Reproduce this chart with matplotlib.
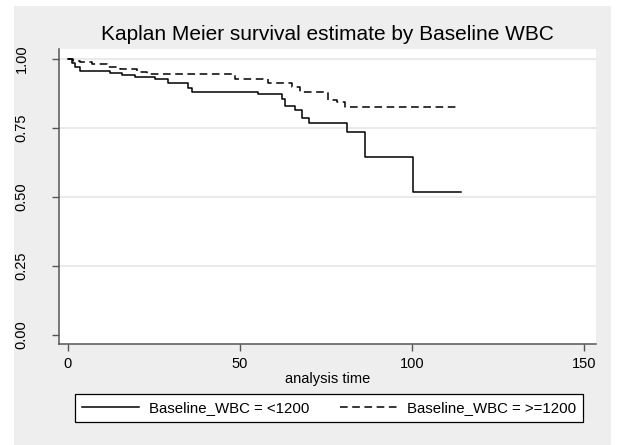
import matplotlib.pyplot as plt
from matplotlib.patches import Rectangle

plt.rcParams['font.family'] = ['Liberation Sans', 'DejaVu Sans']

# step times and survival, Baseline_WBC < 1200
t_low = [0, 1.2, 2.0, 3.5, 12.2, 15.7, 19.5, 25.3, 29.1, 34.9, 36.0, 55.2,
         62.2, 63.1, 66.0, 68.0, 70.1, 81.1, 86.3, 100.3, 114.2]
s_low = [1.0, 0.986, 0.971, 0.957, 0.949, 0.942, 0.935, 0.928, 0.913, 0.895, 0.880, 0.873,
         0.855, 0.830, 0.815, 0.786, 0.768, 0.736, 0.645, 0.518, 0.518]

# Baseline_WBC >= 1200
t_high = [0, 1.5, 3.5, 7.0, 11.3, 15.1, 20.1, 23.0, 48.5, 58.1, 65.1, 67.4,
          75.6, 78.2, 80.5, 113.1]
s_high = [1.0, 0.993, 0.989, 0.982, 0.971, 0.964, 0.953, 0.944, 0.928, 0.913, 0.899, 0.880,
          0.851, 0.844, 0.826, 0.826]

xticks = [0, 50, 100, 150]
yticks = [0, 0.25, 0.5, 0.75, 1.0]
ylabels = ['0.00', '0.25', '0.50', '0.75', '1.00']

W, H = 637, 445
fig = plt.figure(figsize=(W / 100, H / 100), dpi=100, facecolor='white')
fig.patches.append(Rectangle((14 / W, 0), (611 - 14) / W, 1 - 6 / H,
                             transform=fig.transFigure, facecolor='#eeeeee',
                             edgecolor='none', zorder=-10))

ax = fig.add_axes([59 / W, 1 - 344 / H, (596 - 59) / W, (344 - 49) / H])
ax.set_facecolor('white')

ax.plot(t_low, s_low, drawstyle='steps-post', color='black', lw=1.1,
        label='Baseline_WBC = <1200')
ax.plot(t_high, s_high, drawstyle='steps-post', color='black', lw=1.1,
        linestyle=(0, (5, 3)), label='Baseline_WBC = >=1200')

ax.set_xlim(-2.6, 153.5)
ax.set_ylim(-0.033, 1.036)
ax.set_xticks(xticks)
ax.set_yticks(yticks)
ax.set_yticklabels(ylabels, rotation=90, va='center')
for y in yticks[1:]:
    ax.axhline(y, color='#e6e6e6', lw=1.2, zorder=0)

for side in ['top', 'right']:
    ax.spines[side].set_visible(False)
for side in ['left', 'bottom']:
    ax.spines[side].set_color('#555555')
    ax.spines[side].set_linewidth(1.1)
ax.tick_params(direction='out', length=5, width=1.0, color='#555555',
               labelsize=10.5, pad=4)
ax.tick_params(axis='y', pad=17)

ax.set_xlabel('analysis time', fontsize=10.5, labelpad=1)
fig.text(327 / W, 1 - 34 / H, 'Kaplan Meier survival estimate by Baseline WBC',
         ha='center', va='center', fontsize=15)

leg = fig.legend(loc='center', bbox_to_anchor=(329 / W, 1 - 408 / H), ncol=2,
                 fontsize=10.8, frameon=True, fancybox=False, handlelength=3.8,
                 columnspacing=2.0, handletextpad=0.7, borderpad=0.45,
                 edgecolor='black', framealpha=1)
leg.get_frame().set_linewidth(0.9)

fig.savefig('out.png', dpi=100, facecolor='white')
